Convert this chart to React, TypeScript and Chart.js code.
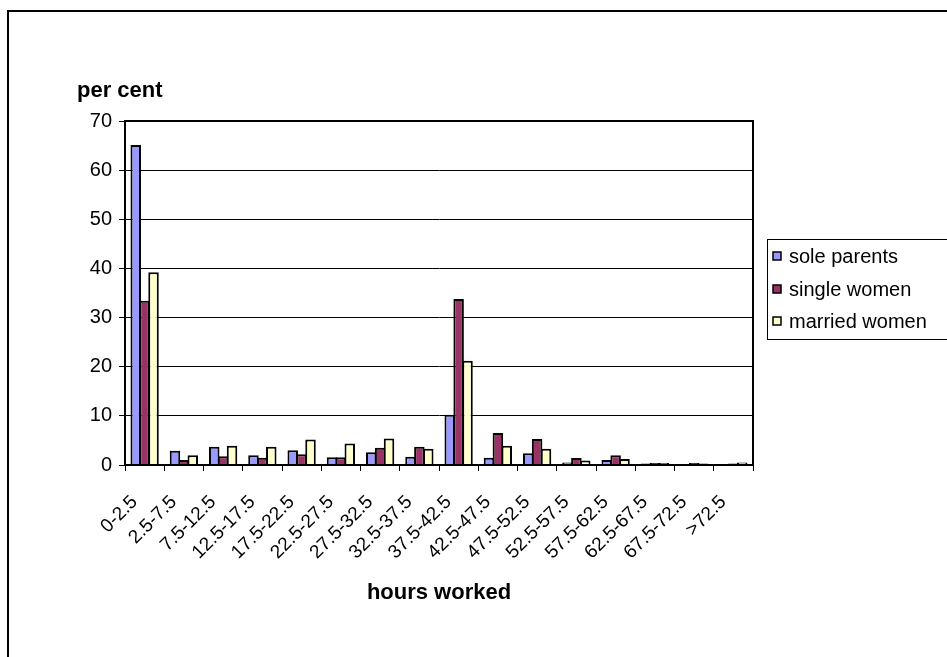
import React, { useEffect, useRef } from "react";
import { Chart, registerables } from "chart.js";

Chart.register(...registerables);

const categories = [
  "0-2.5", "2.5-7.5", "7.5-12.5", "12.5-17.5", "17.5-22.5", "22.5-27.5",
  "27.5-32.5", "32.5-37.5", "37.5-42.5", "42.5-47.5", "47.5-52.5",
  "52.5-57.5", "57.5-62.5", "62.5-67.5", "67.5-72.5", ">72.5",
];
const soleParents = [65.1, 2.9, 3.7, 2.0, 3.0, 1.6, 2.6, 1.7, 10.2, 1.5, 2.4, 0.5, 1.0, 0.3, 0.2, 0.2];
const singleWomen = [33.4, 1.0, 1.8, 1.5, 2.2, 1.6, 3.5, 3.7, 33.8, 6.5, 5.3, 1.4, 2.0, 0.4, 0.4, 0.3];
const marriedWomen = [39.2, 2.0, 3.9, 3.7, 5.2, 4.4, 5.4, 3.3, 21.2, 3.9, 3.3, 0.9, 1.2, 0.4, 0.3, 0.5];
const seriesNames = ["sole parents", "single women", "married women"];
const seriesColors = ["#9999FF", "#993366", "#FFFFCC"];
const yTicks = [0, 10, 20, 30, 40, 50, 60, 70];

const FONT = "'Liberation Sans', Arial, sans-serif";

const decorPlugin = {
  id: "decor",
  afterDatasetsDraw(chart: any) {
    const { ctx, chartArea } = chart;
    ctx.save();
    ctx.strokeStyle = "#000";
    ctx.lineWidth = 2;
    ctx.strokeRect(chartArea.left, chartArea.top, chartArea.right - chartArea.left, chartArea.bottom - chartArea.top);
    ctx.restore();
  },
  afterDraw(chart: any) {
    const { ctx, chartArea } = chart;
    ctx.save();
    // outer chart border
    ctx.strokeStyle = "#000";
    ctx.lineWidth = 2;
    ctx.strokeRect(8, 11, 1200, 1200);
    // axis titles
    ctx.fillStyle = "#000";
    ctx.font = `bold 22px ${FONT}`;
    ctx.textAlign = "left";
    ctx.textBaseline = "alphabetic";
    ctx.fillText("per cent", 77, 97);
    ctx.textAlign = "center";
    ctx.fillText("hours worked", (chartArea.left + chartArea.right) / 2, 599);
    // legend
    ctx.lineWidth = 1;
    ctx.strokeStyle = "#000";
    ctx.strokeRect(767.5, 239.5, 300, 100);
    const rows = [256, 289, 321];
    ctx.font = `20px ${FONT}`;
    ctx.textAlign = "left";
    ctx.textBaseline = "middle";
    seriesNames.forEach((name, i) => {
      const cy = rows[i];
      ctx.fillStyle = seriesColors[i];
      ctx.fillRect(773, cy - 4, 8, 8);
      ctx.lineWidth = 1.5;
      ctx.strokeRect(773, cy - 4, 8, 8);
      ctx.fillStyle = "#000";
      ctx.fillText(name, 789, cy + 1);
    });
    ctx.restore();
  },
};

export default function App() {
  const ref = useRef<HTMLCanvasElement>(null);
  useEffect(() => {
    if (!ref.current) return;
    const chart = new Chart(ref.current, {
      type: "bar",
      data: {
        labels: categories,
        datasets: [soleParents, singleWomen, marriedWomen].map((d, i) => ({
          label: seriesNames[i],
          data: d,
          backgroundColor: seriesColors[i],
          borderColor: "#000",
          borderWidth: 2,
          categoryPercentage: 0.68,
          barPercentage: 1.18,
        })),
      },
      options: {
        responsive: false,
        animation: false,
        layout: { padding: { top: 121, right: 194, bottom: 0, left: 0 } },
        plugins: { legend: { display: false }, tooltip: { enabled: false }, title: { display: false } },
        scales: {
          x: {
            type: "category",
            afterFit: (s: any) => { s.height = 192; },
            grid: { offset: true, drawOnChartArea: false, drawTicks: true, tickLength: 6, color: "#000", lineWidth: 1 },
            border: { display: true, color: "#000", width: 2 },
            ticks: { maxRotation: 45, minRotation: 45, autoSkip: false, color: "#000", font: { family: FONT, size: 19 }, padding: 20, labelOffset: -10 },
          },
          y: {
            min: 0,
            max: 70,
            afterFit: (s: any) => { s.width = 125; },
            afterBuildTicks: (s: any) => { s.ticks = yTicks.map((v) => ({ value: v })); },
            grid: { color: "#000", lineWidth: 1, drawTicks: true, tickLength: 6 },
            border: { display: true, color: "#000", width: 2 },
            ticks: { color: "#000", font: { family: FONT, size: 20 }, padding: 7 },
          },
        },
      },
      plugins: [decorPlugin],
    });
    return () => chart.destroy();
  }, []);
  return (
    <div style={{ position: "absolute", left: 0, top: 0, width: 947, height: 657, background: "#fff" }}>
      <canvas ref={ref} width={947} height={657} style={{ display: "block" }} />
    </div>
  );
}
